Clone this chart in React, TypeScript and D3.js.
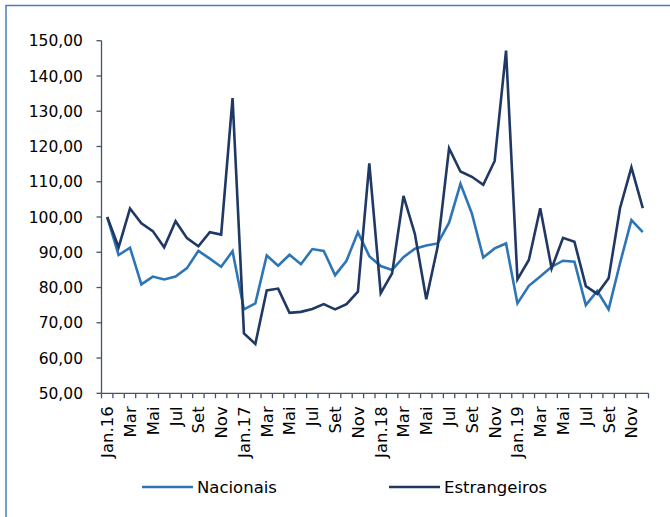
import React from "react";
import * as d3 from "d3";

const months: string[] = (() => {
  const names = ["Jan", "Fev", "Mar", "Abr", "Mai", "Jun", "Jul", "Ago", "Set", "Out", "Nov", "Dez"];
  const out: string[] = [];
  for (const y of ["16", "17", "18", "19"]) for (const m of names) out.push(m === "Jan" ? `Jan.${y}` : m);
  return out;
})();

const nacionais = [
  100.0, 89.2, 91.3, 80.9, 83.1, 82.3, 83.1, 85.5, 90.4, 88.2, 85.9, 90.3,
  73.8, 75.5, 89.1, 86.2, 89.3, 86.6, 90.9, 90.4, 83.5, 87.6, 95.7, 88.9,
  86.1, 85.0, 88.6, 91.0, 91.9, 92.5, 98.4, 109.4, 101.0, 88.5, 91.1, 92.5,
  75.5, 80.5, 83.1, 85.9, 87.6, 87.3, 75.0, 79.0, 73.8, 86.9, 99.1, 95.7,
];

const estrangeiros = [
  100.0, 91.4, 102.4, 98.2, 96.0, 91.4, 98.8, 94.0, 91.7, 95.7, 95.0, 133.7,
  67.0, 64.0, 79.2, 79.7, 72.8, 73.1, 73.9, 75.3, 73.8, 75.3, 78.8, 115.2,
  78.4, 84.0, 106.0, 95.2, 76.7, 91.6, 119.5, 112.9, 111.4, 109.1, 115.9, 147.2,
  82.3, 87.8, 102.5, 85.4, 94.1, 93.0, 80.4, 78.2, 82.6, 102.5, 114.1, 102.5,
];

const yTicks = [50, 60, 70, 80, 90, 100, 110, 120, 130, 140, 150];

const seriesDefs = [
  { name: "Nacionais", values: nacionais, color: "#2e75b6" },
  { name: "Estrangeiros", values: estrangeiros, color: "#1f3864" },
];

const W = 670;
const H = 517;
const FONT = "'DejaVu Sans', Verdana, sans-serif";

export default function App() {
  const left = 101.5;
  const right = 648.5;
  const top = 40.7;
  const bottom = 393.3;

  const idx = months.map((_, i) => String(i));
  const x = d3.scaleBand<string>().domain(idx).range([left, right]).padding(0);
  const y = d3.scaleLinear().domain([50, 150]).range([bottom, top]);
  const cx = (i: number) => (x(String(i)) as number) + x.bandwidth() / 2;

  const line = d3
    .line<number>()
    .x((_, i) => cx(i))
    .y((d) => y(d));

  const axisColor = "#44546a";
  const boundaries = d3.range(months.length + 1).map((i) => left + i * x.bandwidth());

  return (
    <div style={{ position: "absolute", left: 0, top: 0 }}>
      <svg width={W} height={H} style={{ display: "block" }}>
        <rect x={0} y={0} width={W} height={H} fill="#ffffff" />
        {/* frame */}
        <rect x={6} y={5.5} width={W + 10} height={H + 10} fill="none" stroke="#4a7ebb" strokeWidth={1.5} />

        {/* y axis */}
        <line x1={left} x2={left} y1={top} y2={bottom} stroke={axisColor} strokeWidth={1.3} />
        {yTicks.map((t) => (
          <g key={t}>
            <line x1={left - 5} x2={left} y1={y(t)} y2={y(t)} stroke={axisColor} strokeWidth={1.3} />
            <text
              x={83}
              y={y(t)}
              dy="0.36em"
              textAnchor="end"
              fontFamily={FONT}
              fontSize={15.5}
              fill="#000"
            >
              {d3.format(".2f")(t).replace(".", ",")}
            </text>
          </g>
        ))}

        {/* x axis */}
        <line x1={left} x2={right} y1={bottom} y2={bottom} stroke={axisColor} strokeWidth={1.3} />
        {boundaries.map((bx, i) => (
          <line key={i} x1={bx} x2={bx} y1={bottom} y2={bottom + 5} stroke={axisColor} strokeWidth={1.3} />
        ))}
        {months.map((m, i) =>
          i % 2 === 0 ? (
            <text
              key={m + i}
              transform={`translate(${cx(i)},${bottom + 13}) rotate(-90)`}
              textAnchor="end"
              dy="0.36em"
              fontFamily={FONT}
              fontSize={16.5}
              fill="#000"
            >
              {m}
            </text>
          ) : null
        )}

        {/* lines */}
        {seriesDefs.map((s) => (
          <path
            key={s.name}
            d={line(s.values) || ""}
            fill="none"
            stroke={s.color}
            strokeWidth={2.6}
            strokeLinejoin="miter"
            strokeMiterlimit={4}
          />
        ))}

        {/* legend */}
        {seriesDefs.map((s, i) => {
          const lx = i === 0 ? 142 : 389;
          const ly = 487;
          return (
            <g key={s.name}>
              <line x1={lx} x2={lx + 51} y1={ly} y2={ly} stroke={s.color} strokeWidth={2.6} />
              <text x={lx + 55} y={ly} dy="0.36em" fontFamily={FONT} fontSize={16.5} fill="#000">
                {s.name}
              </text>
            </g>
          );
        })}
      </svg>
    </div>
  );
}
